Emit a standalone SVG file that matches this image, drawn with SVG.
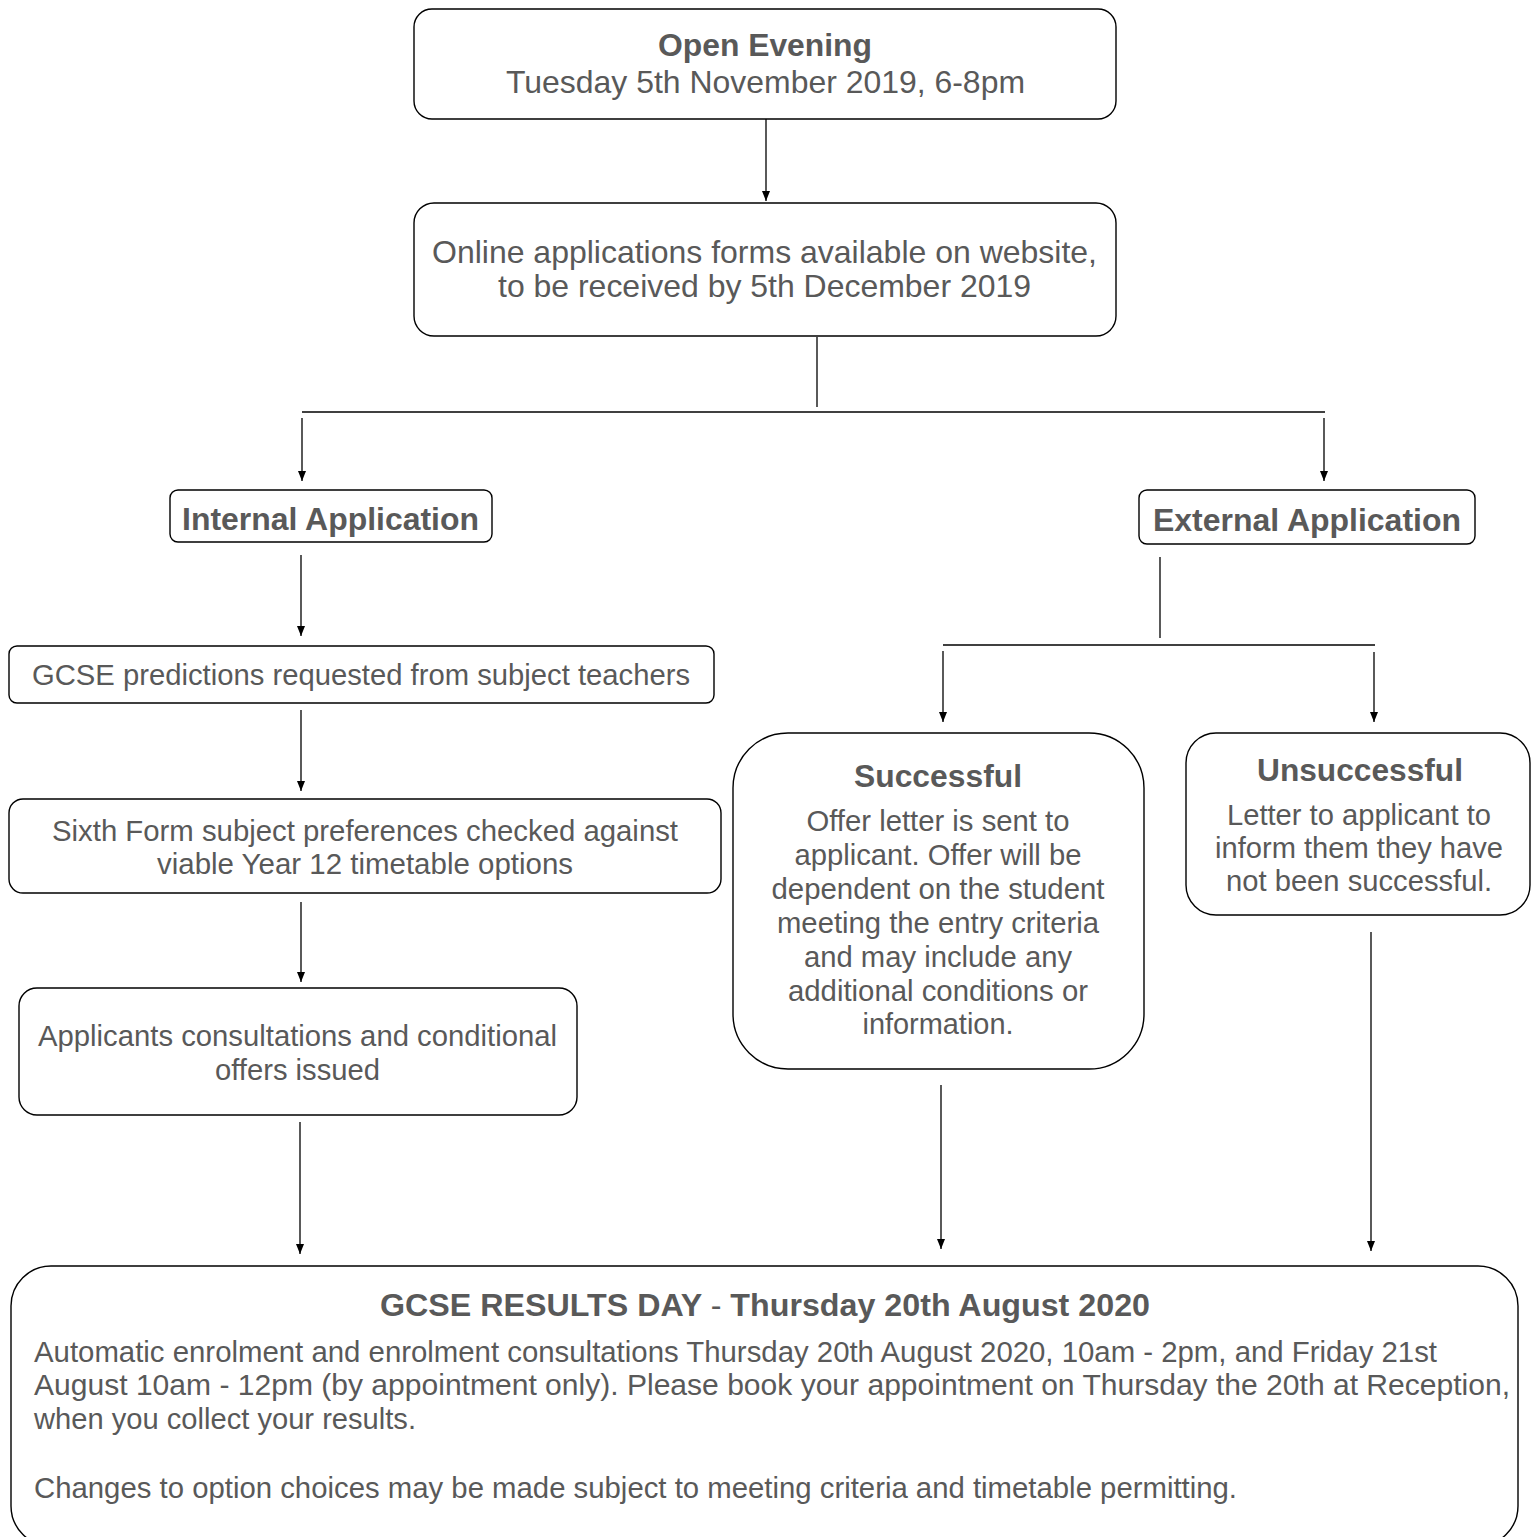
<svg xmlns="http://www.w3.org/2000/svg" width="1531" height="1537" viewBox="0 0 1531 1537">
<defs>
<marker id="ah" markerWidth="10" markerHeight="8" refX="10" refY="4" orient="auto" markerUnits="userSpaceOnUse" viewBox="0 0 10 8">
<path d="M0,0 L10,4 L0,8 Z" fill="#000"/>
</marker>
<style>
.box{fill:#fff;stroke:#000;stroke-width:1.4}
.t{font-family:"Liberation Sans",Arial,sans-serif;fill:#595959;text-anchor:middle}
.tl{font-family:"Liberation Sans",Arial,sans-serif;fill:#595959;text-anchor:start}
.b{font-weight:bold}
.s32{font-size:32px}
.s29{font-size:29px}
.c{fill:none;stroke:#000;stroke-width:1.3}
</style>
</defs>
<rect width="1531" height="1537" fill="#fff"/>

<g id="connectors">
<line class="c" x1="766" y1="119" x2="766" y2="201" marker-end="url(#ah)"/>
<line class="c" x1="817" y1="337" x2="817" y2="407"/>
<line class="c" x1="302" y1="412" x2="1325" y2="412"/>
<line class="c" x1="302" y1="418" x2="302" y2="481" marker-end="url(#ah)"/>
<line class="c" x1="1324" y1="418" x2="1324" y2="481" marker-end="url(#ah)"/>
<line class="c" x1="301" y1="555" x2="301" y2="636" marker-end="url(#ah)"/>
<line class="c" x1="301" y1="710" x2="301" y2="791" marker-end="url(#ah)"/>
<line class="c" x1="301" y1="902" x2="301" y2="982" marker-end="url(#ah)"/>
<line class="c" x1="300" y1="1122" x2="300" y2="1254" marker-end="url(#ah)"/>
<line class="c" x1="1160" y1="557" x2="1160" y2="638"/>
<line class="c" x1="943" y1="645" x2="1375" y2="645"/>
<line class="c" x1="943" y1="651" x2="943" y2="722" marker-end="url(#ah)"/>
<line class="c" x1="1374" y1="652" x2="1374" y2="722" marker-end="url(#ah)"/>
<line class="c" x1="941" y1="1085" x2="941" y2="1249" marker-end="url(#ah)"/>
<line class="c" x1="1371" y1="932" x2="1371" y2="1251" marker-end="url(#ah)"/>
</g>

<g id="open-evening">
<rect class="box" x="414" y="9" width="702" height="110" rx="18"/>
<text class="t b s32" x="765" y="56" textLength="214" lengthAdjust="spacingAndGlyphs">Open Evening</text>
<text class="t s32" x="765.5" y="93" textLength="519" lengthAdjust="spacingAndGlyphs">Tuesday 5th November 2019, 6-8pm</text>
</g>

<g id="online-applications">
<rect class="box" x="414" y="203" width="702" height="133" rx="20"/>
<text class="t s32" x="764.5" y="263" textLength="665" lengthAdjust="spacingAndGlyphs">Online applications forms available on website,</text>
<text class="t s32" x="764.5" y="297" textLength="533" lengthAdjust="spacingAndGlyphs">to be received by 5th December 2019</text>
</g>

<g id="internal-application">
<rect class="box" x="170" y="490" width="322" height="52" rx="8"/>
<text class="t b s32" x="330.5" y="530" textLength="297" lengthAdjust="spacingAndGlyphs">Internal Application</text>
</g>

<g id="external-application">
<rect class="box" x="1139" y="490" width="336" height="54" rx="8"/>
<text class="t b s32" x="1307" y="531" textLength="308" lengthAdjust="spacingAndGlyphs">External Application</text>
</g>

<g id="gcse-predictions">
<rect class="box" x="9" y="646" width="705" height="57" rx="8"/>
<text class="t s29" x="361" y="685" textLength="658" lengthAdjust="spacingAndGlyphs">GCSE predictions requested from subject teachers</text>
</g>

<g id="sixth-form-preferences">
<rect class="box" x="9" y="799" width="712" height="94" rx="14"/>
<text class="t s29" x="365" y="841" textLength="626" lengthAdjust="spacingAndGlyphs">Sixth Form subject preferences checked against</text>
<text class="t s29" x="365" y="874" textLength="416" lengthAdjust="spacingAndGlyphs">viable Year 12 timetable options</text>
</g>

<g id="applicants-consultations">
<rect class="box" x="19" y="988" width="558" height="127" rx="18"/>
<text class="t s29" x="297.5" y="1046" textLength="519" lengthAdjust="spacingAndGlyphs">Applicants consultations and conditional</text>
<text class="t s29" x="297.5" y="1080" textLength="165" lengthAdjust="spacingAndGlyphs">offers issued</text>
</g>

<g id="successful">
<rect class="box" x="733" y="733" width="411" height="336" rx="55"/>
<text class="t b s32" x="938" y="787" textLength="168" lengthAdjust="spacingAndGlyphs">Successful</text>
<text class="t s29" x="938" y="831" textLength="263" lengthAdjust="spacingAndGlyphs">Offer letter is sent to</text>
<text class="t s29" x="938" y="865" textLength="287" lengthAdjust="spacingAndGlyphs">applicant. Offer will be</text>
<text class="t s29" x="938" y="899" textLength="333" lengthAdjust="spacingAndGlyphs">dependent on the student</text>
<text class="t s29" x="938" y="933" textLength="322" lengthAdjust="spacingAndGlyphs">meeting the entry criteria</text>
<text class="t s29" x="938" y="967" textLength="268" lengthAdjust="spacingAndGlyphs">and may include any</text>
<text class="t s29" x="938" y="1001" textLength="300" lengthAdjust="spacingAndGlyphs">additional conditions or</text>
<text class="t s29" x="938" y="1034" textLength="151" lengthAdjust="spacingAndGlyphs">information.</text>
</g>

<g id="unsuccessful">
<rect class="box" x="1186" y="733" width="344" height="182" rx="30"/>
<text class="t b s32" x="1360" y="781" textLength="206" lengthAdjust="spacingAndGlyphs">Unsuccessful</text>
<text class="t s29" x="1359" y="825" textLength="264" lengthAdjust="spacingAndGlyphs">Letter to applicant to</text>
<text class="t s29" x="1359" y="858" textLength="288" lengthAdjust="spacingAndGlyphs">inform them they have</text>
<text class="t s29" x="1359" y="891" textLength="266" lengthAdjust="spacingAndGlyphs">not been successful.</text>
</g>

<g id="results-day">
<rect class="box" x="11" y="1266" width="1507" height="280" rx="40"/>
<text class="t b s32" x="765" y="1316" textLength="770" lengthAdjust="spacingAndGlyphs">GCSE RESULTS DAY <tspan font-weight="normal">-</tspan> Thursday 20th August 2020</text>
<text class="tl s29" x="34" y="1362" textLength="1403" lengthAdjust="spacingAndGlyphs">Automatic enrolment and enrolment consultations Thursday 20th August 2020, 10am - 2pm, and Friday 21st</text>
<text class="tl s29" x="34" y="1395" textLength="1476" lengthAdjust="spacingAndGlyphs">August 10am - 12pm (by appointment only). Please book your appointment on Thursday the 20th at Reception,</text>
<text class="tl s29" x="34" y="1429" textLength="382" lengthAdjust="spacingAndGlyphs">when you collect your results.</text>
<text class="tl s29" x="34" y="1498" textLength="1203" lengthAdjust="spacingAndGlyphs">Changes to option choices may be made subject to meeting criteria and timetable permitting.</text>
</g>
</svg>
